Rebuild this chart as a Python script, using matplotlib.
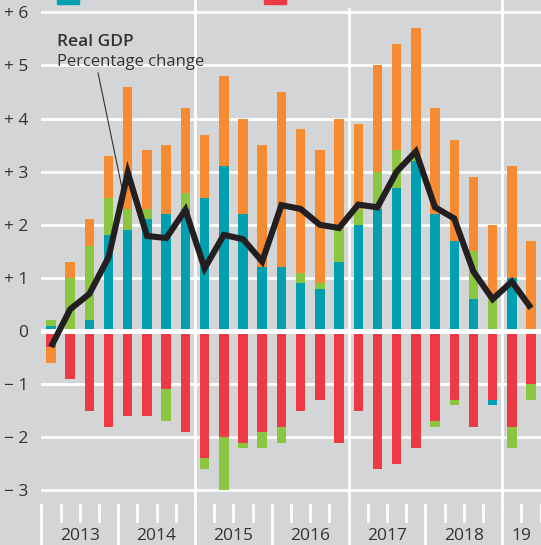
import matplotlib
matplotlib.use("Agg")
import matplotlib.pyplot as plt
import numpy as np
from matplotlib.patches import Rectangle

plt.rcParams['font.family'] = ['Open Sans', 'DejaVu Sans']

quarters = [f"{y} Q{q}" for y in range(2013, 2020) for q in range(1, 5)][:26]
years = ["2013", "2014", "2015", "2016", "2017", "2018", "19"]

# positive contributions (stacked upward: teal, green, orange)
teal_pos = [0.1, 0.0, 0.2, 1.8, 1.9, 2.1, 2.2, 2.3, 2.5, 3.1, 2.2, 1.2, 1.2,
            0.9, 0.8, 1.3, 2.0, 2.3, 2.7, 3.2, 2.2, 1.7, 0.6, 0.0, 1.0, 0.0]
green_pos = [0.1, 1.0, 1.4, 0.7, 0.4, 0.2, 0.0, 0.3, 0.0, 0.0, 0.0, 0.0, 0.0,
             0.2, 0.1, 0.6, 0.3, 0.7, 0.7, 0.1, 0.0, 0.0, 0.9, 0.6, 0.0, 0.0]
orange_pos = [0.0, 0.3, 0.5, 0.8, 2.3, 1.1, 1.3, 1.6, 1.2, 1.7, 1.8, 2.3, 3.3,
              2.7, 2.5, 2.1, 1.6, 2.0, 2.0, 2.4, 2.0, 1.9, 1.4, 1.4, 2.1, 1.7]
# negative contributions (stacked downward: red, green, teal, orange)
red_neg = [-0.3, -0.9, -1.5, -1.8, -1.6, -1.6, -1.1, -1.9, -2.4, -2.0, -2.1, -1.9, -1.8,
           -1.5, -1.3, -2.1, -1.5, -2.6, -2.5, -2.2, -1.7, -1.3, -1.8, -1.3, -1.8, -1.0]
green_neg = [0.0, 0.0, 0.0, 0.0, 0.0, 0.0, -0.6, 0.0, -0.2, -1.0, -0.1, -0.3, -0.3,
             0.0, 0.0, 0.0, 0.0, 0.0, 0.0, 0.0, -0.1, -0.1, 0.0, 0.0, -0.4, -0.3]
teal_neg = [0.0] * 23 + [-0.1, 0.0, 0.0]
orange_neg = [-0.3] + [0.0] * 25

gdp = [-0.3, 0.41, 0.7, 1.39, 2.98, 1.79, 1.75, 2.28, 1.18, 1.81, 1.73, 1.31, 2.37,
       2.3, 2.0, 1.94, 2.38, 2.33, 3.0, 3.38, 2.33, 2.12, 1.12, 0.6, 0.93, 0.43]

yticks = [-3, -2, -1, 0, 1, 2, 3, 4, 5, 6]
ytick_labels = ["\u2212 3", "\u2212 2", "\u2212 1", "0", "+ 1", "+ 2", "+ 3", "+ 4", "+ 5", "+ 6"]

TEAL = "#00a0b1"
GREEN = "#8cc540"
ORANGE = "#f68b32"
RED = "#ee3a44"
BG = "#d4d5d7"
TXT = "#333333"

W, H = 541, 545
fig = plt.figure(figsize=(W / 100, H / 100), dpi=100)
fig.patch.set_facecolor(BG)

ax_left, ax_right = 41, 541
ax_top, ax_bot = 9, 503
ax = fig.add_axes([ax_left / W, (H - ax_bot) / H, (ax_right - ax_left) / W, (ax_bot - ax_top) / H])
ax.set_facecolor(BG)
for s in ax.spines.values():
    s.set_visible(False)

x = np.arange(len(quarters))
ymin, ymax = -3.239, 6.064
ax.set_xlim(-0.52, 25.52)
ax.set_ylim(ymin, ymax)

bw = 0.49
bottom_p = np.zeros(len(x))
for vals, col in [(teal_pos, TEAL), (green_pos, GREEN), (orange_pos, ORANGE)]:
    v = np.array(vals)
    ax.bar(x, v, bw, bottom=bottom_p, color=col, zorder=3, linewidth=0)
    bottom_p += v
bottom_n = np.zeros(len(x))
for vals, col in [(red_neg, RED), (green_neg, GREEN), (teal_neg, TEAL), (orange_neg, ORANGE)]:
    v = np.array(vals)
    ax.bar(x, v, bw, bottom=bottom_n, color=col, zorder=3, linewidth=0)
    bottom_n += v

# gridlines
for yv in yticks:
    if yv == 0:
        ax.axhline(0, color="white", lw=3.6, zorder=4)
    else:
        ax.axhline(yv, color="white", lw=2.0, zorder=1)
top_ext = ymax + 9 / 53.1
for xv in [7.5, 15.5, 23.5]:
    ytop = top_ext if xv != 15.5 else ymax
    ax.plot([xv, xv], [ymin, ytop], color="white", lw=2.0, zorder=1, clip_on=False)

ax.set_yticks(yticks)
ax.set_yticklabels(ytick_labels)
ax.tick_params(axis="y", length=0, pad=9, labelsize=12.5, labelcolor=TXT)
ax.tick_params(axis="x", length=0, labelbottom=False)

# GDP line
ax.plot(x, gdp, color="#231f20", lw=4.4, zorder=5, solid_joinstyle="miter", solid_capstyle="butt")

# annotation
ax.plot([2.45, 3.75], [4.86, 2.6], color="#333333", lw=0.8, zorder=2)
fig.text(57 / W, (H - 46) / H, "Real GDP", fontsize=12.5, fontweight="semibold", color=TXT,
         ha="left", va="baseline")
fig.text(57 / W, (H - 66) / H, "Percentage change", fontsize=12, color=TXT,
         ha="left", va="baseline")

# bottom tick strip
axb = fig.add_axes([ax_left / W, 0, (ax_right - ax_left) / W, (H - ax_bot) / H], sharex=None)
axb.set_xlim(-0.52, 25.52)
axb.set_ylim(0, H - ax_bot)
axb.axis("off")
for i in range(len(quarters) + 1):
    xv = i - 0.5
    if i % 4 == 0:
        axb.plot([xv, xv], [0, 40], color="white", lw=2.0, clip_on=False)
    else:
        axb.plot([xv, xv], [24, 40], color="white", lw=2.0, clip_on=False)
for k, lab in enumerate(years):
    start = k * 4 - 0.5
    end = min(start + 4, len(quarters) - 0.5)
    axb.text((start + end) / 2, 4.5, lab, ha="center", va="baseline", fontsize=12.5, color=TXT)

# legend (cut off at top)
fig.patches.append(Rectangle((57 / W, (H - 4) / H), 22 / W, 6 / H, transform=fig.transFigure,
                             color=TEAL, figure=fig))
fig.patches.append(Rectangle((264 / W, (H - 4) / H), 22 / W, 6 / H, transform=fig.transFigure,
                             color=RED, figure=fig))

fig.savefig("out.png", dpi=100, facecolor=BG)
